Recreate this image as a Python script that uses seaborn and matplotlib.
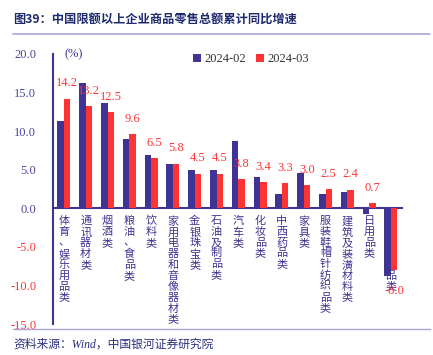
import numpy as np
import pandas as pd
import seaborn as sns
import matplotlib.pyplot as plt

# 数据
categories = ["体育、娱乐用品类", "通讯器材类", "烟酒类", "粮油、食品类", "饮料类",
              "家用电器和音像器材类", "金银珠宝类", "石油及制品类", "汽车类", "化妆品类",
              "中西药品类", "家具类", "服装鞋帽针纺织品类", "建筑及装潢材料类", "日用品类",
              "文化办公用品类"]
feb = [11.3, 16.2, 13.7, 9.0, 6.9, 5.7, 5.0, 5.0, 8.7, 4.0, 1.9, 4.6, 1.8, 2.1, -0.7, -8.8]
mar = [14.2, 13.2, 12.5, 9.6, 6.5, 5.8, 4.5, 4.5, 3.8, 3.4, 3.3, 3.0, 2.5, 2.4, 0.7, -8.0]
periods = ["2024-02", "2024-03"]

navy = "#3F3393"
red = "#FF3333"

df = pd.DataFrame({
    "cat": categories * 2,
    "val": feb + mar,
    "period": [periods[0]] * len(feb) + [periods[1]] * len(mar),
})

sns.set_style("white")
plt.rcParams['font.family'] = ['Liberation Serif', 'Noto Sans CJK SC']

fig = plt.figure(figsize=(4.33, 3.55), dpi=100)
ax = fig.add_axes([0.1224, 0.0873, 0.8056, 0.7607])

sns.barplot(data=df, x="cat", y="val", hue="period", palette=[navy, red],
            width=0.6, saturation=1, ax=ax, zorder=3, linewidth=0)

ax.set_ylim(-15, 20)
ax.set_xlim(-0.5, 15.5)
ax.set_yticks(np.arange(-15, 20.1, 5))
ax.set_yticklabels([f"{v:.1f}" for v in np.arange(-15, 20.1, 5)], fontsize=9)
for lab, v in zip(ax.get_yticklabels(), np.arange(-15, 20.1, 5)):
    lab.set_color(red if v < 0 else "#4A45A0")
ax.tick_params(axis="y", direction="in", length=3, width=1.2, color=navy, pad=12)

ax.set_xticks(np.arange(-0.5, 15.6, 1))
ax.set_xticklabels([])
ax.tick_params(axis="x", direction="in", length=3, width=1.2, color=navy)
ax.set_xlabel("")
ax.set_ylabel("")

for s in ["top", "right"]:
    ax.spines[s].set_visible(False)
ax.spines["left"].set_color(navy)
ax.spines["left"].set_linewidth(1.5)
ax.spines["bottom"].set_position(("data", 0))
ax.spines["bottom"].set_color(navy)
ax.spines["bottom"].set_linewidth(1.5)

# 数值标签 (2024-03)
for i, v in enumerate(mar):
    y = v + 1.2 if v >= 0 else v - 1.9
    ax.text(i + 0.15, y, f"{v:.1f}", color=red, fontsize=9, ha="center", va="bottom" if v >= 0 else "top",
            zorder=4)

# 竖排类别名
for i, c in enumerate(categories):
    ax.text(i, -1.0, "\n".join(c), ha="center", va="top", fontsize=8, color=navy,
            linespacing=1.1, zorder=2, family="Noto Sans CJK SC")

ax.text(0.05, 19.9, "(%)", fontsize=9, color=navy, va="center", transform=ax.transData)

ax.legend(ncol=2, frameon=False, loc="upper left", bbox_to_anchor=(0.37, 1.045),
          handlelength=0.6, handleheight=0.6, handletextpad=0.3, columnspacing=0.8,
          fontsize=9, labelcolor="#333333")

fig.text(0.03, 0.945, "图39：中国限额以上企业商品零售总额累计同比增速", fontsize=8.8,
         fontweight="bold", color="#1E2A6E", va="center", family="Noto Sans CJK SC")
fig.add_artist(plt.Line2D([0.03, 0.993], [0.905, 0.905], color="#A9A6D8", lw=1.2))
fig.add_artist(plt.Line2D([0.03, 0.993], [0.072, 0.072], color="#A9A6D8", lw=1.0))
fig.text(0.03, 0.03, "资料来源：Wind，中国银河证券研究院", fontsize=8.5, style="italic",
         color="#2A2F7A", va="center")

fig.savefig("out.png", dpi=100)
